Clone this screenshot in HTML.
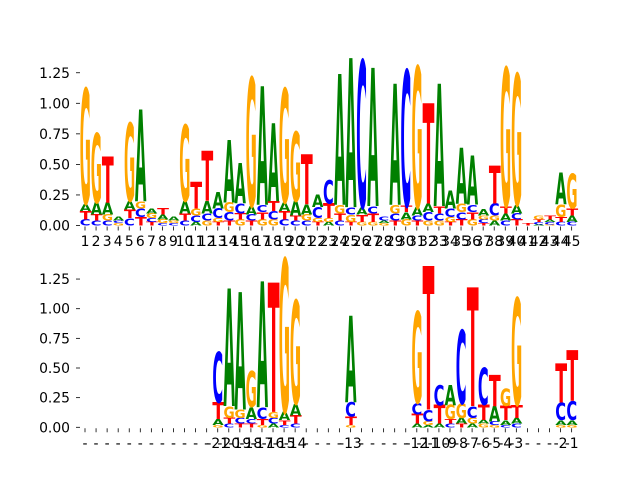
<!DOCTYPE html>
<html><head><meta charset="utf-8"><style>
html,body{margin:0;padding:0;background:#fff;}
svg{display:block;}
text{font-family:"DejaVu Sans","Liberation Sans",sans-serif;}
</style></head><body>
<svg id="chart" width="640" height="480" viewBox="0 0 640 480" xmlns="http://www.w3.org/2000/svg">
<g id="top"></g>
<g id="bot"></g>
</svg>
<script>
// top logo: stacks bottom-to-top as letter:height
const topLabels = ["1","2","3","4","5","6","7","8","9","10","11","12","13","14","15","16","17","18","19","20","21","22","23","24","25","26","27","28","29","30","31","32","33","34","35","36","37","38","39","40","41","42","43","44","45"];
const topStacks = [
"C.05 T.07 A.06 G.94","C.04 T.05 A.1 G.57","C.04 G.05 A.1 T.38","G.02 C.02 A.03","C.06 T.07 A.07 G.64",
"T.07 C.07 G.06 A.75","T.03 C.03 G.04 A.04","C.02 G.03 A.04 T.05","C.02 G.02 A.03","C.04 T.06 A.1 G.62",
"A.03 C.05 G.06 T.22","G.04 C.06 A.1 T.41","T.03 G.03 C.08 A.13","T.04 C.07 G.08 A.51","G.05 T.05 C.08 A.33",
"T.04 C.05 A.07 G1.05","G.05 T.06 C.06 A.97","G.05 C.07 T.08 A.64","C.05 T.07 A.07 G.93","C.04 T.04 A.12 G.57",
"C.04 G.05 A.08 T.41","T.03 G.03 C.09 A.1","A.03 G.03 T.12 C.19","C.04 T.06 G.07 A1.07","T.03 G.06 C.06 A1.22",
"G.03 T.06 A.06 C1.2","G.03 T.07 C.06 A1.13","G.02 A.02 C.03","T.04 C.06 G.07 A.99","G.05 A.06 T.05 C1.11",
"T.04 C.04 A.07 G1.15","G.04 C.07 A.07 T.82","G.04 C.06 T.06 A1.0","T.03 G.04 C.07 A.15","T.05 C.06 G.07 A.46",
"G.05 T.06 C.06 A.4","T.02 C.03 G.03 A.05","A.04 G.04 C.1 T.31","C.04 A.06 T.06 G1.13","T.05 C.05 A.07 G1.07",
"T.02","A.01 C.02 T.02 G.03","G.01 C.02 A.02 T.03","C.03 T.04 G.1 A.26","C.03 A.05 T.06 G.28"];
const botLabels = ["-","-","-","-","-","-","-","-","-","-","-","-","-21","-20","-19","-18","-17","-16","-15","-14","-","-","-","-","-13","-","-","-","-","-","-12","-11","-10","-9","-8","-7","-6","-5","-4","-3","-","-","-","-2","-1"];
const botStacks = ["","","","","","","","","","","","",
"G.02 A.05 T.14 C.43","C.03 T.05 G.1 A.99","T.03 C.05 G.07 A.99","T.03 C.04 A.1 G.3","G.02 T.05 C.1 A1.06",
"A.03 C.05 G.05 T1.09","C.02 T.04 A.07 G1.29","C.03 T.07 A.1 G.87","","","","",
"G.02 T.07 C.12 A.73","","","","","",
"A.03 T.08 C.1 G.77","A.02 G.03 C.1 T1.21","A.03 T.16 C.17","C.03 T.04 G.12 A.17","T.03 A.05 G.12 C.62",
"A.03 G.05 C.1 T1.0","G.03 A.03 T.13 C.31","G.02 C.03 A.13 T.26","C.02 A.04 T.12 G.15","C.03 A.05 T.11 G.9",
"","","","G.02 A.04 C.15 T.33","G.02 A.04 C.16 T.43"];
const yTicks = [0,0.25,0.5,0.75,1.0,1.25];
const yTickLabels = ["0.00","0.25","0.50","0.75","1.00","1.25"];

const NS="http://www.w3.org/2000/svg";
const colors={A:"#008000",C:"#0000ff",G:"#ffa500",T:"#ff0000"};
const adv={A:0.722,C:0.722,G:0.778,T:0.611};
function xPos(i){return 85+i*11.06;}
function mk(tag,attrs,parent){const e=document.createElementNS(NS,tag);for(const k in attrs)e.setAttribute(k,attrs[k]);parent.appendChild(e);return e;}
function panel(g,labels,stacks,y0,ppu,labelY,name){
  const yScale=v=>y0-v*ppu;
  yTicks.forEach((v,i)=>{
    const t=mk('line',{x1:76,x2:80,y1:yScale(v),y2:yScale(v),stroke:'#000','stroke-width':0.8},g);
    
    
    const l=mk('text',{x:70,y:yScale(v)+5,'text-anchor':'end','font-size':13.9,fill:'#000'},g);
    l.textContent=yTickLabels[i];
    
    
  });
  labels.forEach((lab,i)=>{
    const x=xPos(i);
    const t=mk('line',{x1:x,x2:x,y1:y0+1,y2:y0+5,stroke:'#000','stroke-width':0.8},g);
    
    
    const l=mk('text',{x:x,y:labelY,'text-anchor':'middle','font-size':13.9,fill:'#000'},g);
    l.textContent=lab;
    
    
  });
  stacks.forEach((s,i)=>{
    if(!s)return;
    let base=0;const cx=xPos(i),w=10.6;
    s.split(' ').forEach(tok=>{
      const ch=tok[0],h=parseFloat(tok.slice(1));
      const yb=yScale(base),hp=h*ppu;
      const sx=w/(adv[ch]*100),sy=hp/72.9;
      const t=mk('text',{x:0,y:0,'font-size':100,'font-weight':'bold',fill:colors[ch],
        'font-family':'"Liberation Sans",sans-serif',
        transform:`translate(${cx-w/2},${yb}) scale(${sx},${sy})`},g);
      t.textContent=ch;
      
      
      base+=h;
    });
  });
}
panel(document.getElementById('top'),topLabels,topStacks,225.5,122.2,246,'top');
panel(document.getElementById('bot'),botLabels,botStacks,427.3,118.6,448,'bottom');
</script>
</body></html>
